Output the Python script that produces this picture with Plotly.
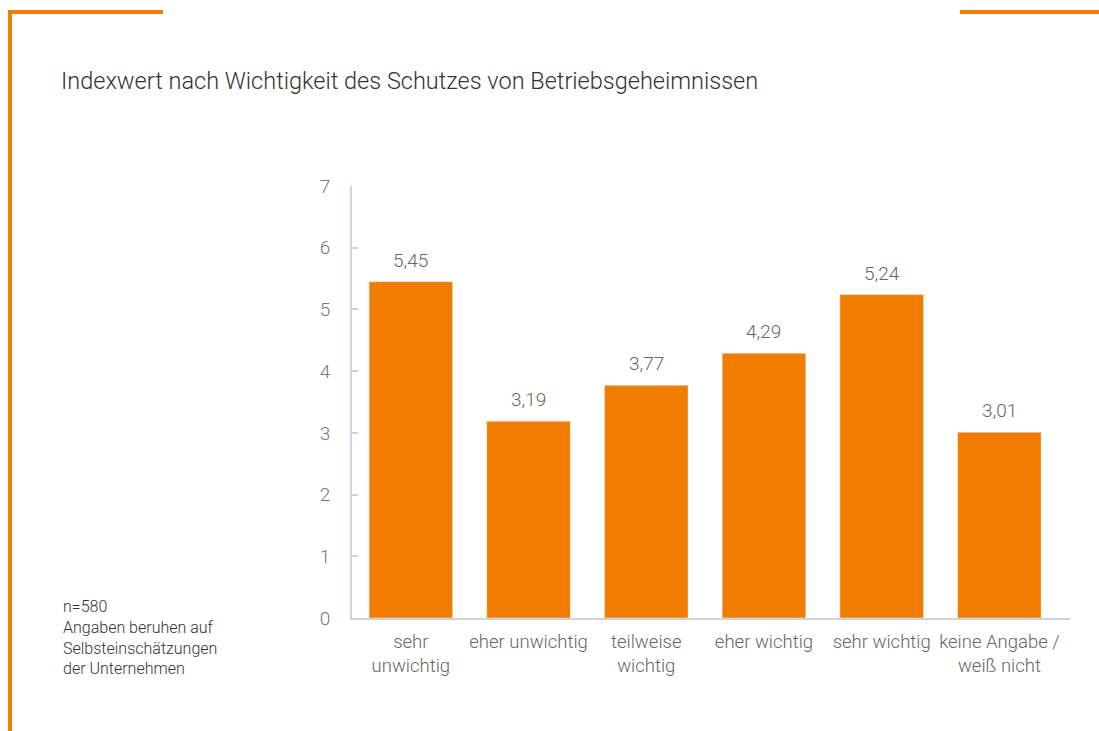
import plotly.graph_objects as go

categories = ["sehr<br>unwichtig", "eher unwichtig", "teilweise<br>wichtig",
              "eher wichtig", "sehr wichtig", "keine Angabe /<br>weiß nicht"]
values = [5.45, 3.19, 3.77, 4.29, 5.24, 3.01]
value_labels = ["5,45", "3,19", "3,77", "4,29", "5,24", "3,01"]
y_ticks = [0, 1, 2, 3, 4, 5, 6, 7]

ORANGE = "#F07D00"
FONT = "Roboto"
W, H = 1099, 731
L, R, T, B = 352, 29, 186, 113
pw, ph = W - L - R, H - T - B

def px(x):
    return (x - L) / pw

def py(y):
    return (H - B - y) / ph

fig = go.Figure()
fig.add_trace(go.Bar(x=categories, y=values, marker_color=ORANGE, hoverinfo="skip"))

for c, v, t in zip(categories, values, value_labels):
    fig.add_annotation(x=c, y=v, text=t, showarrow=False, yanchor="bottom", yshift=8,
                       font=dict(family=FONT, size=19, color="#666666", weight=300))

fig.add_annotation(xref="paper", yref="paper", x=px(59), y=py(81), text="Indexwert nach Wichtigkeit des Schutzes von Betriebsgeheimnissen",
                   showarrow=False, xanchor="left", yanchor="middle",
                   font=dict(family=FONT, size=23.5, color="#333333", weight=300))
fig.add_annotation(xref="paper", yref="paper", x=px(61), y=py(595),
                   text="n=580<br>Angaben beruhen auf<br>Selbsteinschätzungen<br>der Unternehmen",
                   showarrow=False, xanchor="left", yanchor="top", align="left",
                   font=dict(family=FONT, size=16, color="#333333", weight=300))

line = dict(color=ORANGE, width=4)
fig.add_shape(type="line", xref="paper", yref="paper", x0=px(8), x1=px(163), y0=py(12), y1=py(12), line=line)
fig.add_shape(type="line", xref="paper", yref="paper", x0=px(10), x1=px(10), y0=py(10), y1=py(735), line=line)
fig.add_shape(type="line", xref="paper", yref="paper", x0=px(960), x1=px(1100), y0=py(12), y1=py(12), line=line)

fig.update_layout(
    width=W, height=H, margin=dict(l=L, r=R, t=T, b=B),
    paper_bgcolor="white", plot_bgcolor="white", showlegend=False, bargap=0.29,
    xaxis=dict(range=[-0.5, 5.6], showline=True, linecolor="#d0d4d8", linewidth=2,
               ticks="", showgrid=False, tickfont=dict(family=FONT, size=18.5, color="#666666", weight=300),
               ticklabelstandoff=6),
    yaxis=dict(range=[0, 7], tickvals=y_ticks, showline=True, linecolor="#c8d6e2", linewidth=2,
               ticks="inside", ticklen=6, tickcolor="#c8d6e2", tickwidth=2, showgrid=False, zeroline=False,
               tickfont=dict(family=FONT, size=19, color="#777777", weight=300), ticklabelstandoff=16),
)
fig.write_html("out.html")
